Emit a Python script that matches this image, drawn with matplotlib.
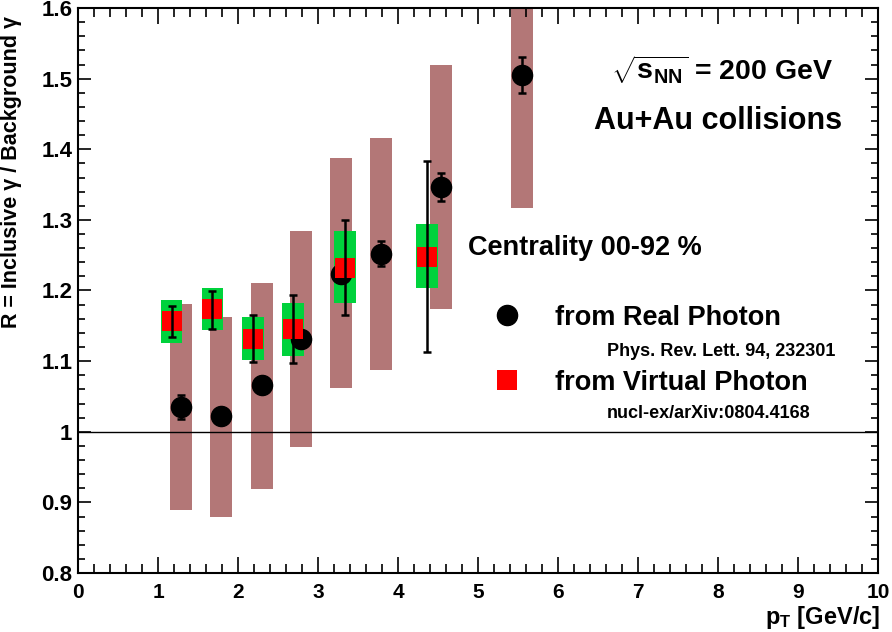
import matplotlib
matplotlib.use("Agg")
import matplotlib.pyplot as plt
from matplotlib.patches import Rectangle
from matplotlib.lines import Line2D
from matplotlib.ticker import MultipleLocator, FuncFormatter

plt.rcParams['font.family'] = ['Liberation Sans', 'DejaVu Sans']
plt.rcParams['font.weight'] = 'bold'
plt.rcParams['mathtext.fontset'] = 'custom'
plt.rcParams['mathtext.rm'] = 'Liberation Sans:bold'
plt.rcParams['mathtext.bf'] = 'Liberation Sans:bold'
plt.rcParams['mathtext.it'] = 'Liberation Sans:bold'

# Real photon (PRL 94, 232301)
real_pt = [1.29, 1.79, 2.30, 2.79, 3.29, 3.79, 4.54, 5.55]
real_r = [1.035, 1.022, 1.066, 1.131, 1.224, 1.252, 1.347, 1.505]
real_stat = [0.017, 0.008, 0.008, 0.008, 0.008, 0.018, 0.020, 0.025]
real_sys_lo = [0.889, 0.879, 0.919, 0.978, 1.062, 1.087, 1.174, 1.317]
real_sys_hi = [1.181, 1.162, 1.211, 1.284, 1.388, 1.416, 1.519, 1.695]

# Virtual photon (nucl-ex/arXiv:0804.4168)
virt_pt = [1.17, 1.68, 2.19, 2.69, 3.34, 4.36]
virt_r = [1.157, 1.174, 1.131, 1.145, 1.232, 1.247]
virt_err_lo = [1.134, 1.146, 1.099, 1.097, 1.165, 1.113]
virt_err_hi = [1.178, 1.199, 1.165, 1.194, 1.300, 1.383]
virt_sys_lo = [1.126, 1.144, 1.102, 1.107, 1.182, 1.204]
virt_sys_hi = [1.187, 1.204, 1.162, 1.182, 1.284, 1.294]

box_w = 0.27
brown = '#b37777'
green = '#00d23c'

fig = plt.figure(figsize=(8.92, 6.32), dpi=100)
ax = fig.add_axes([78/892, 1 - 573/632, 800/892, 565/632])
ax.set_xlim(0, 10)
ax.set_ylim(0.8, 1.6)

for x, lo, hi in zip(real_pt, real_sys_lo, real_sys_hi):
    ax.add_patch(Rectangle((x - box_w/2, lo), box_w, hi - lo, facecolor=brown,
                           edgecolor='none', zorder=1))

ax.axhline(1.0, color='black', lw=1.0, zorder=2)

for x, lo, hi in zip(virt_pt, virt_sys_lo, virt_sys_hi):
    ax.add_patch(Rectangle((x - box_w/2, lo), box_w, hi - lo, facecolor=green,
                           edgecolor='none', zorder=3))

ax.errorbar(real_pt, real_r, yerr=real_stat, fmt='o', color='black', ms=14.5,
            elinewidth=1.8, capsize=3, capthick=1.8, zorder=4)

ax.plot(virt_pt, virt_r, 's', color='red', ms=15, mec='red', mew=0, zorder=5)
yerr_v = [[r - lo for r, lo in zip(virt_r, virt_err_lo)],
          [hi - r for r, hi in zip(virt_r, virt_err_hi)]]
ax.errorbar(virt_pt, virt_r, yerr=yerr_v, fmt='none', ecolor='black',
            elinewidth=1.8, capsize=3, capthick=1.8, zorder=6)

# Axes styling (ROOT-like)
ax.xaxis.set_major_locator(MultipleLocator(1))
ax.xaxis.set_minor_locator(MultipleLocator(0.2))
ax.yaxis.set_major_locator(MultipleLocator(0.1))
ax.yaxis.set_minor_locator(MultipleLocator(0.02))
ax.yaxis.set_major_formatter(FuncFormatter(lambda v, p: '%g' % round(v, 2)))
ax.tick_params(axis='both', which='both', direction='in', top=True, right=True, width=1.2)
ax.tick_params(axis='x', which='major', length=11.5)
ax.tick_params(axis='x', which='minor', length=6.5)
ax.tick_params(axis='y', which='major', length=9.5)
ax.tick_params(axis='y', which='minor', length=5)
ax.tick_params(axis='x', labelsize=15, pad=7)
ax.tick_params(axis='y', labelsize=16, pad=4)
for s in ax.spines.values():
    s.set_linewidth(1.5)

ax.set_ylabel('R = Inclusive γ / Background γ', fontsize=15.5, fontweight='bold')
ax.yaxis.set_label_coords(-0.07, 0.71)
ax.set_xlabel(r'$\mathbf{p_T}$ [GeV/c]', fontsize=17, fontweight='bold', ha='right')
ax.xaxis.set_label_coords(1.003, -0.055)

def px(xp, yp):
    return xp / 892, 1 - yp / 632

fig.text(*px(722, 70), r'$\sqrt{\mathbf{s_{NN}}}$ = 200 GeV', fontsize=20.5, fontweight='bold',
         ha='center', va='center')
fig.text(*px(718, 121), 'Au+Au collisions', fontsize=22, fontweight='bold',
         ha='center', va='center')
fig.text(*px(468, 248), 'Centrality 00-92 %', fontsize=19.5, fontweight='bold',
         ha='left', va='center')

fig.add_artist(Line2D([507/892], [1 - 315/632], marker='o', color='black', ms=14.5,
                      linestyle='none', transform=fig.transFigure))
fig.text(*px(555, 318), 'from Real Photon', fontsize=19.5, fontweight='bold', ha='left', va='center')
fig.text(*px(607, 351), 'Phys. Rev. Lett. 94, 232301', fontsize=13, fontweight='bold', ha='left', va='center')
fig.add_artist(Line2D([507/892], [1 - 380/632], marker='s', color='red', ms=15, mew=0,
                      linestyle='none', transform=fig.transFigure))
fig.text(*px(555, 383), 'from Virtual Photon', fontsize=19.5, fontweight='bold', ha='left', va='center')
fig.text(*px(607, 413), 'nucl-ex/arXiv:0804.4168', fontsize=13, fontweight='bold', ha='left', va='center')

fig.savefig('out.png', dpi=100)
